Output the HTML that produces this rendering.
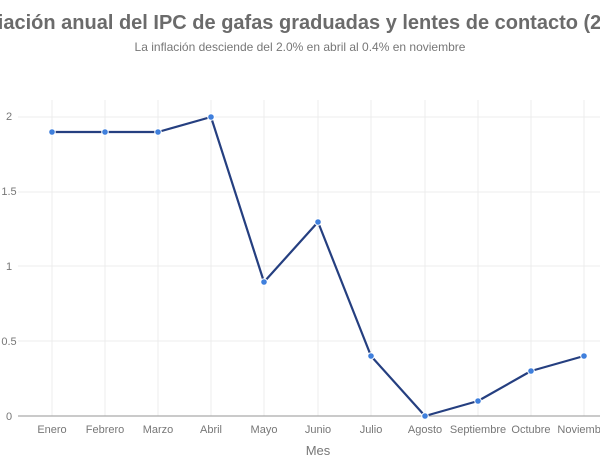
<!DOCTYPE html>
<html><head><meta charset="utf-8"><style>
html,body{margin:0;padding:0;background:#fff;width:600px;height:470px;overflow:hidden}
svg{display:block;font-family:"Liberation Sans",sans-serif}
</style></head><body>
<svg width="600" height="470" viewBox="0 0 600 470">
<text x="304" y="29" text-anchor="middle" font-size="20" font-weight="bold" fill="#6b6b6b">Variación anual del IPC de gafas graduadas y lentes de contacto (2025)</text>
<text x="300" y="51" text-anchor="middle" font-size="12" fill="#777">La inflación desciende del 2.0% en abril al 0.4% en noviembre</text>
<g stroke="#ececec" stroke-width="1">
<line x1="52" y1="100" x2="52" y2="416"/><line x1="105" y1="100" x2="105" y2="416"/><line x1="158" y1="100" x2="158" y2="416"/><line x1="211" y1="100" x2="211" y2="416"/><line x1="264" y1="100" x2="264" y2="416"/><line x1="318" y1="100" x2="318" y2="416"/><line x1="371" y1="100" x2="371" y2="416"/><line x1="425" y1="100" x2="425" y2="416"/><line x1="478" y1="100" x2="478" y2="416"/><line x1="531" y1="100" x2="531" y2="416"/><line x1="584" y1="100" x2="584" y2="416"/>
<line x1="18" y1="117" x2="600" y2="117"/><line x1="18" y1="192" x2="600" y2="192"/><line x1="18" y1="266" x2="600" y2="266"/><line x1="18" y1="341" x2="600" y2="341"/>
</g>
<line x1="18" y1="416" x2="600" y2="416" stroke="#aaa" stroke-width="1.2"/>
<g font-size="11" fill="#777" text-anchor="middle">
<text x="9" y="120">2</text><text x="9" y="195">1.5</text><text x="9" y="270">1</text><text x="9" y="345">0.5</text><text x="9" y="420">0</text>
<text x="52" y="433">Enero</text><text x="105" y="433">Febrero</text><text x="158" y="433">Marzo</text><text x="211" y="433">Abril</text><text x="264" y="433">Mayo</text><text x="318" y="433">Junio</text><text x="371" y="433">Julio</text><text x="425" y="433">Agosto</text><text x="478" y="433">Septiembre</text><text x="531" y="433">Octubre</text><text x="584" y="433">Noviembre</text>
<text x="318" y="455" font-size="13">Mes</text>
</g>
<polyline fill="none" stroke="#253f80" stroke-width="2.2" stroke-linejoin="round" points="52,132 105,132 158,132 211,117 264,282 318,222 371,356 425,416 478,401 531,371 584,356"/>
<g fill="#3f7fdc" stroke="#fff" stroke-width="1">
<circle cx="52" cy="132" r="3.3"/><circle cx="105" cy="132" r="3.3"/><circle cx="158" cy="132" r="3.3"/><circle cx="211" cy="117" r="3.3"/><circle cx="264" cy="282" r="3.3"/><circle cx="318" cy="222" r="3.3"/><circle cx="371" cy="356" r="3.3"/><circle cx="425" cy="416" r="3.3"/><circle cx="478" cy="401" r="3.3"/><circle cx="531" cy="371" r="3.3"/><circle cx="584" cy="356" r="3.3"/>
</g>
</svg>
</body></html>
